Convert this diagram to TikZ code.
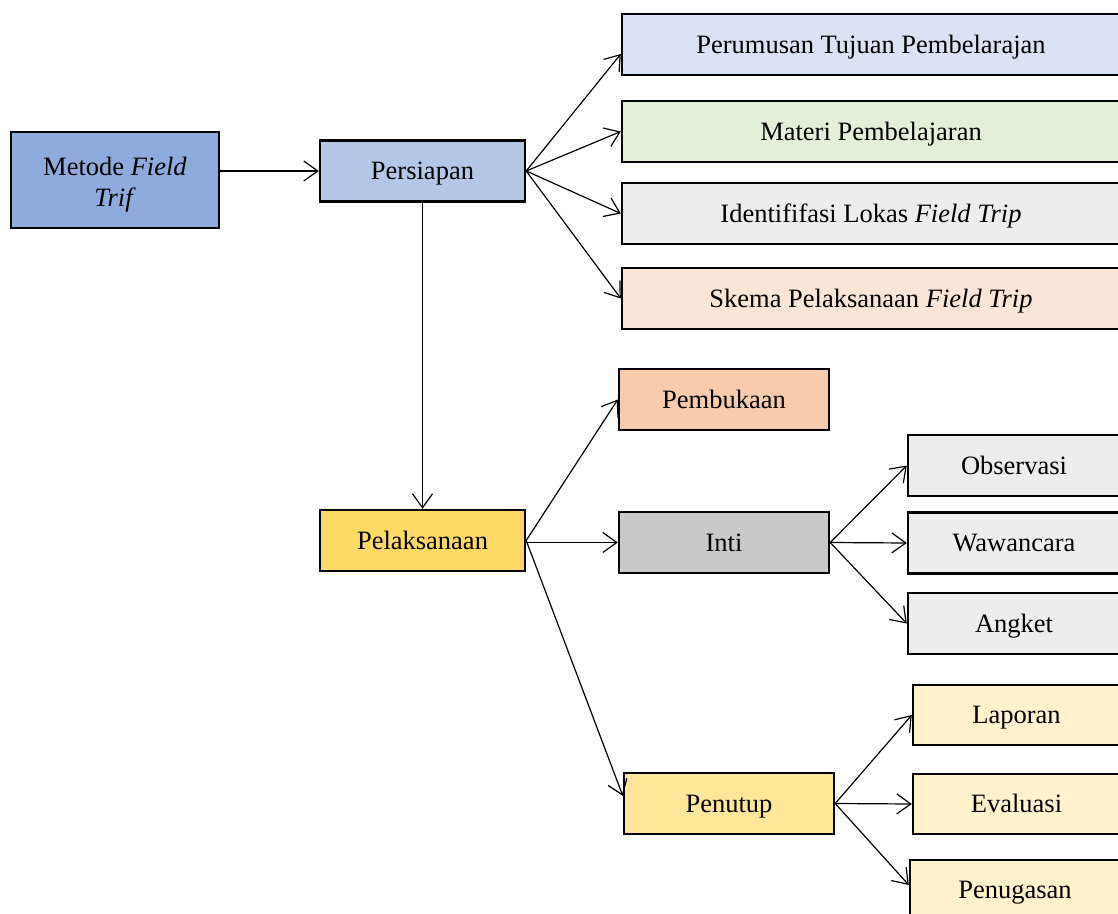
\documentclass[tikz,border=0pt]{standalone}
\usepackage{fontspec}
\setmainfont{Liberation Serif}
\usetikzlibrary{arrows.meta, calc}

\begin{document}
\begin{tikzpicture}[
    x=0.5pt, y=-0.5pt,
    box/.style={draw, line width=1.2pt, inner sep=0pt, align=center, minimum height=30.5pt, text height=1.1em, text depth=0.22em},
    wide/.style={box, minimum width=249pt},
    mid/.style={box, minimum width=105pt},
    arr/.style={-{Straight Barb[length=7pt, width=10pt]}, line width=0.6pt},
    every node/.style={font=\fontsize{13.25}{15.5}\selectfont}
]
\useasboundingbox (0,0) rectangle (1118,914);

% Left column
\node[draw, line width=1.2pt, inner sep=0pt, align=center, fill={rgb,255:red,143;green,170;blue,220}, minimum width=104pt, minimum height=48pt] (metode) at (115,180) {\rule{0pt}{14pt}Metode \textit{Field}\\\textit{Trif}};
\node[box, fill={rgb,255:red,180;green,199;blue,231}, minimum width=102.5pt] (persiapan) at (422.5,171) {Persiapan};
\node[box, fill={rgb,255:red,255;green,217;blue,102}, minimum width=102.5pt] (pelaksanaan) at (422.5,540.5) {Pelaksanaan};

% Persiapan branches
\node[wide, fill={rgb,255:red,218;green,227;blue,243}] (perumusan) at (871,44.5) {Perumusan Tujuan Pembelarajan};
\node[wide, fill={rgb,255:red,226;green,240;blue,217}] (materi) at (871,131.5) {Materi Pembelajaran};
\node[wide, fill={rgb,255:red,237;green,237;blue,237}] (lokasi) at (871,213.5) {Identififasi Lokas \textit{Field Trip}};
\node[wide, fill={rgb,255:red,251;green,229;blue,214}] (skema) at (871,298.5) {Skema Pelaksanaan \textit{Field Trip}};

% Pelaksanaan branches
\node[mid, fill={rgb,255:red,248;green,203;blue,173}] (pembukaan) at (724,399.5) {Pembukaan};
\node[mid, fill={rgb,255:red,201;green,201;blue,201}] (inti) at (724,542.5) {Inti};
\node[mid, fill={rgb,255:red,255;green,230;blue,153}] (penutup) at (729,803.5) {Penutup};

% Inti branches
\node[box, fill={rgb,255:red,237;green,237;blue,237}, minimum width=106pt] (observasi) at (1014,465.5) {Observasi};
\node[box, fill={rgb,255:red,237;green,237;blue,237}, minimum width=106pt] (wawancara) at (1014,543) {Wawancara};
\node[box, fill={rgb,255:red,237;green,237;blue,237}, minimum width=106pt] (angket) at (1014,623.5) {Angket};

% Penutup branches
\node[box, fill={rgb,255:red,255;green,242;blue,204}, minimum width=103.5pt, minimum height=30pt] (laporan) at (1016.5,715) {Laporan};
\node[box, fill={rgb,255:red,255;green,242;blue,204}, minimum width=103.5pt, minimum height=30pt] (evaluasi) at (1016.5,804) {Evaluasi};
\node[box, fill={rgb,255:red,255;green,242;blue,204}, minimum width=105pt, minimum height=30pt] (penugasan) at (1015,890) {Penugasan};

% Arrows
\draw[arr] (metode.east |- persiapan.west) -- (persiapan.west);
\draw[arr] (persiapan) -- (pelaksanaan);
\draw[arr] (persiapan.east) -- ($(perumusan.north west)!0.65!(perumusan.south west)$);
\draw[arr] (persiapan.east) -- (materi.west);
\draw[arr] (persiapan.east) -- (lokasi.west);
\draw[arr] (persiapan.east) -- (skema.west);

\draw[arr] (pelaksanaan.east) -- (pembukaan.west);
\draw[arr] (pelaksanaan.east |- inti.west) -- (inti.west);
\draw[arr] (pelaksanaan.east) -- ($(penutup.north west)!0.38!(penutup.south west)$);

\draw[arr] (inti.east) -- (observasi.west);
\draw[arr] (inti.east) -- (wawancara.west);
\draw[arr] (inti.east) -- (angket.west);

\draw[arr] (penutup.east) -- (laporan.west);
\draw[arr] (penutup.east) -- (evaluasi.west);
\draw[arr] (penutup.east) -- ($(penugasan.north west)!0.42!(penugasan.south west)$);

\end{tikzpicture}
\end{document}
